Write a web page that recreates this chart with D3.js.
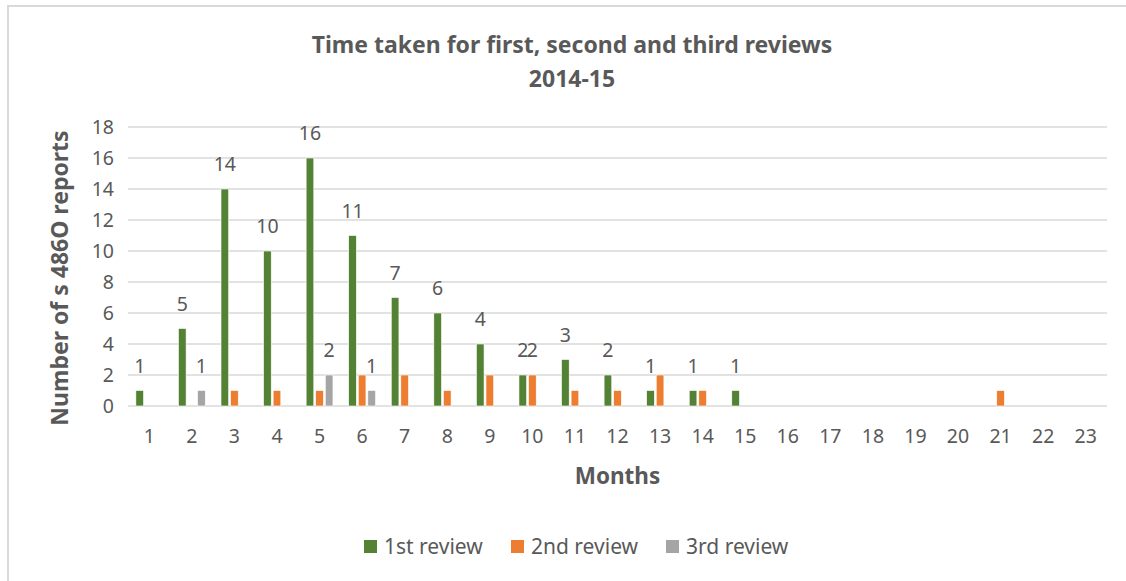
<!DOCTYPE html>
<html>
<head>
<meta charset="utf-8">
<script src="https://cdn.jsdelivr.net/npm/d3@7"></script>
<style>
  body { margin: 0; background: #fff; }
  text { font-family: "Noto Sans", "Open Sans", sans-serif; fill: #595959; }
</style>
</head>
<body>
<div id="content"></div>
<script>
// data
var months = ["1","2","3","4","5","6","7","8","9","10","11","12","13","14","15","16","17","18","19","20","21","22","23"];
var firstReview  = [1,5,14,10,16,11,7,6,4,2,3,2,1,1,1,0,0,0,0,0,0,0,0];
var secondReview = [0,0,1,1,1,2,2,1,2,2,1,1,2,1,0,0,0,0,0,0,1,0,0];
var thirdReview  = [0,1,0,0,2,1,0,0,0,0,0,0,0,0,0,0,0,0,0,0,0,0,0];
// which values carry a data label
var firstLabels  = firstReview.map(function(v){ return v > 0 ? v : null; });
var secondLabels = [null,null,null,null,null,null,null,null,null,2,null,null,null,null,null,null,null,null,null,null,null,null,null];
var thirdLabels  = thirdReview.map(function(v){ return v > 0 ? v : null; });
var seriesNames = ["1st review", "2nd review", "3rd review"];
var colors = ["#548235", "#ED7D31", "#A5A5A5"];
var yTicks = [0,2,4,6,8,10,12,14,16,18];

var W = 1126, H = 581;
var margin = {top: 127, right: 19, bottom: 175, left: 128};
var width = W - margin.left - margin.right,
    height = H - margin.top - margin.bottom;

var svg = d3.select("#content").append("svg")
    .attr("width", W).attr("height", H);

// chart area border
svg.append("rect")
    .attr("x", 8).attr("y", 6)
    .attr("width", W + 20).attr("height", H + 20)
    .attr("fill", "none").attr("stroke", "#d9d9d9").attr("stroke-width", 2);

var g = svg.append("g").attr("transform", "translate(" + margin.left + "," + margin.top + ")");

var x = d3.scaleBand().domain(months).range([0, width]).paddingInner(0.37).paddingOuter(0.185);
var xs = d3.scaleBand().domain([0,1,2]).range([0, x.bandwidth()]).paddingInner(0.2);
var y = d3.scaleLinear().domain([0, 18]).range([height, 0]);

// gridlines
g.selectAll(".grid").data(yTicks).enter().append("line")
    .attr("x1", 0).attr("x2", width)
    .attr("y1", function(d){ return y(d); }).attr("y2", function(d){ return y(d); })
    .attr("stroke", "#d9d9d9").attr("stroke-width", 1.3);

// y axis labels
var yAxis = g.append("g").call(d3.axisLeft(y).tickValues(yTicks).tickSize(0).tickPadding(14));
yAxis.select(".domain").remove();
yAxis.selectAll("text").style("font-size", "19.5px").attr("fill", "#595959");

// x axis labels
var xAxis = g.append("g").attr("transform", "translate(0," + height + ")")
    .call(d3.axisBottom(x).tickSize(0).tickPadding(23));
xAxis.select(".domain").remove();
xAxis.selectAll("text").style("font-size", "19.5px").attr("fill", "#595959");

var series = [firstReview, secondReview, thirdReview];
var labels = [firstLabels, secondLabels, thirdLabels];

series.forEach(function(vals, s) {
  var rows = months.map(function(m, i){ return {m: m, v: vals[i], lab: labels[s][i]}; });
  g.append("g").selectAll("rect").data(rows.filter(function(d){ return d.v > 0; })).enter().append("rect")
      .attr("x", function(d){ return x(d.m) + xs(s); })
      .attr("y", function(d){ return y(d.v); })
      .attr("width", xs.bandwidth())
      .attr("height", function(d){ return height - y(d.v); })
      .attr("fill", colors[s])
      .attr("stroke", "#fff").attr("stroke-width", 0.6);
  g.append("g").selectAll("text").data(rows.filter(function(d){ return d.lab != null; })).enter().append("text")
      .attr("x", function(d){ return x(d.m) + xs(s) + xs.bandwidth() / 2; })
      .attr("y", function(d){ return y(d.v) - 18; })
      .attr("text-anchor", "middle")
      .style("font-size", "19.5px")
      .text(function(d){ return d.lab; });
});

// titles
var title = svg.append("text").attr("text-anchor", "middle").style("font-size", "23px").style("font-weight", "bold");
title.append("tspan").attr("x", 572).attr("y", 53).text("Time taken for first, second and third reviews");
title.append("tspan").attr("x", 572).attr("y", 87).text("2014-15");

svg.append("text")
    .attr("transform", "translate(68,278) rotate(-90)")
    .attr("text-anchor", "middle")
    .style("font-size", "23px").style("font-weight", "bold")
    .text("Number of s 486O reports");

svg.append("text")
    .attr("x", margin.left + width / 2).attr("y", 484)
    .attr("text-anchor", "middle")
    .style("font-size", "22.5px").style("font-weight", "bold")
    .text("Months");

// legend
var legendX = [364, 511, 666];
var legend = svg.append("g");
seriesNames.forEach(function(name, i) {
  legend.append("rect")
      .attr("x", legendX[i]).attr("y", 540)
      .attr("width", 13).attr("height", 13)
      .attr("fill", colors[i]);
  legend.append("text")
      .attr("x", legendX[i] + 20).attr("y", 554)
      .style("font-size", "21px")
      .text(name);
});
</script>
</body>
</html>
